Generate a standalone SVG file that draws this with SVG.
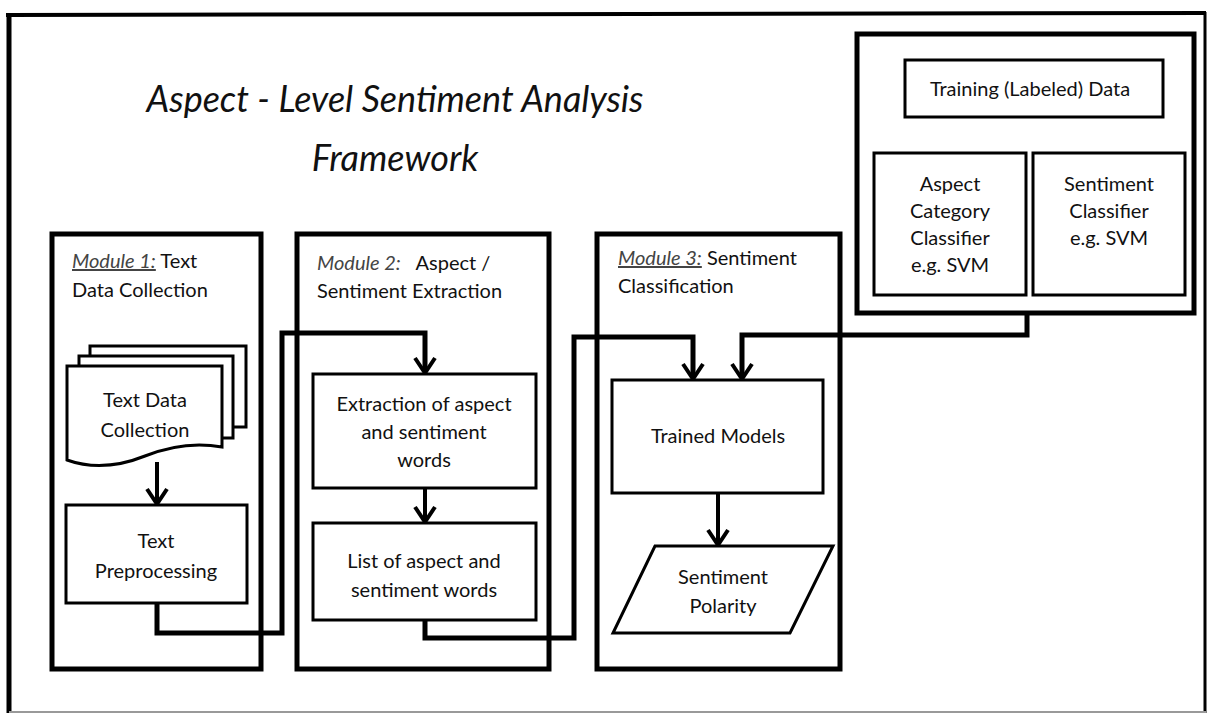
<svg xmlns="http://www.w3.org/2000/svg" width="1211" height="715" viewBox="0 0 1211 715">
<style>
text{font-family:Lato,"Liberation Sans",sans-serif;fill:#111;}
.t{font-size:20px;text-anchor:middle;}
.m{font-size:20px;}
.mod{fill:#fff;stroke:#000;stroke-width:5;}
.box{fill:#fff;stroke:#000;stroke-width:3;}
.c{fill:none;stroke:#000;stroke-width:5;}
.a{fill:none;stroke:#000;stroke-width:4;marker-end:url(#ah);}
.title{font-size:36px;font-style:italic;text-anchor:middle;}
</style>
<defs>
<marker id="ah" viewBox="-2 -13 20 26" refX="15" refY="0" markerWidth="20" markerHeight="26" markerUnits="userSpaceOnUse" orient="auto">
<path d="M0,-10 L15,0 L0,10" fill="none" stroke="#000" stroke-width="4"/>
</marker>
</defs>
<rect width="1211" height="715" fill="#fff"/>
<g id="frame">
<line x1="6" y1="15" x2="1206" y2="13" stroke="#000" stroke-width="4"/>
<line x1="9" y1="13" x2="9" y2="713" stroke="#000" stroke-width="5"/>
<line x1="1205" y1="12" x2="1205" y2="713" stroke="#000" stroke-width="3"/>
<line x1="9" y1="712" x2="1206" y2="712" stroke="#999" stroke-width="2"/>
</g>
<g id="title">
<text class="title" x="395" y="112">Aspect - Level Sentiment Analysis</text>
<text class="title" x="395" y="171">Framework</text>
</g>
<g id="module1">
<rect class="mod" x="52" y="234" width="209" height="435"/>
<text class="m" x="72" y="268"><tspan font-style="italic" text-decoration="underline" fill="#444">Module 1:</tspan> Text</text>
<text class="m" x="72" y="297">Data Collection</text>
</g>
<g id="module2">
<rect class="mod" x="297" y="234" width="252" height="435"/>
<text class="m" x="317" y="270" xml:space="preserve"><tspan font-style="italic" fill="#444">Module 2:</tspan>   Aspect /</text>
<text class="m" x="317" y="298">Sentiment Extraction</text>
</g>
<g id="module3">
<rect class="mod" x="597" y="234" width="243" height="435"/>
<text class="m" x="618" y="265"><tspan font-style="italic" text-decoration="underline" fill="#444">Module 3:</tspan> Sentiment</text>
<text class="m" x="618" y="293">Classification</text>
</g>
<g id="connectors">
<path class="c" d="M157,603 V633 H282 V333 H425 V372"/>
<path class="c" d="M425,620 V638 H574 V337 H693 V378"/>
<path class="c" d="M1027,313 V335 H742 V378"/>
<path class="a" d="M157,462 V504"/>
<path class="a" d="M425,334 V373"/>
<path class="a" d="M425,488 V522"/>
<path class="a" d="M693,336 V379"/>
<path class="a" d="M742,334 V379"/>
<path class="a" d="M718,493 V545"/>
<path class="a" d="M998,117 L983,151"/>
<path class="a" d="M1053,117 L1077,151"/>
</g>
<g id="doc-stack">
<rect class="box" x="90" y="346" width="156" height="81"/>
<rect class="box" x="79" y="356" width="154" height="82"/>
<path class="box" d="M67,366 H222 V447 C195,442 170,446 145,456 C120,466 92,469 67,460 Z"/>
<text class="t" x="145" y="407">Text Data</text>
<text class="t" x="145" y="437">Collection</text>
</g>
<g id="preprocessing">
<rect class="box" x="66" y="505" width="181" height="98"/>
<text class="t" x="156" y="548">Text</text>
<text class="t" x="156" y="578">Preprocessing</text>
</g>
<g id="extraction">
<rect class="box" x="313" y="374" width="223" height="114"/>
<text class="t" x="424" y="411">Extraction of aspect</text>
<text class="t" x="424" y="439">and sentiment</text>
<text class="t" x="424" y="467">words</text>
</g>
<g id="list">
<rect class="box" x="313" y="523" width="223" height="97"/>
<text class="t" x="424" y="568">List of aspect and</text>
<text class="t" x="424" y="597">sentiment words</text>
</g>
<g id="trained-models">
<rect class="box" x="612" y="380" width="211" height="113"/>
<text class="t" x="718" y="443">Trained Models</text>
</g>
<g id="sentiment-polarity">
<path class="box" d="M655,546 H833 L790,633 H613 Z"/>
<text class="t" x="723" y="584">Sentiment</text>
<text class="t" x="723" y="613">Polarity</text>
</g>
<g id="training-group">
<rect class="mod" x="857" y="34" width="337" height="279"/>
</g>
<g id="training-data">
<rect class="box" x="905" y="60" width="258" height="57"/>
<text class="t" x="1030" y="96">Training (Labeled) Data</text>
</g>
<g id="aspect-classifier">
<rect class="box" x="874" y="153" width="152" height="142"/>
<text class="t" x="950" y="191">Aspect</text>
<text class="t" x="950" y="218">Category</text>
<text class="t" x="950" y="245">Classifier</text>
<text class="t" x="950" y="272">e.g. SVM</text>
</g>
<g id="sentiment-classifier">
<rect class="box" x="1033" y="153" width="152" height="142"/>
<text class="t" x="1109" y="191">Sentiment</text>
<text class="t" x="1109" y="218">Classifier</text>
<text class="t" x="1109" y="245">e.g. SVM</text>
</g>
</svg>
